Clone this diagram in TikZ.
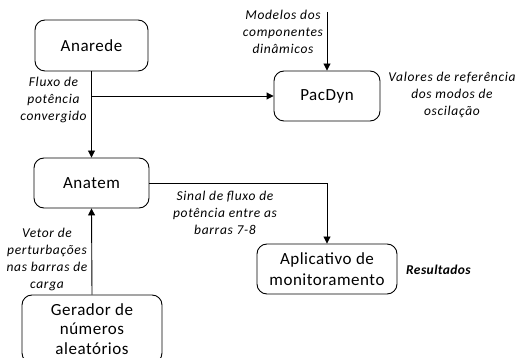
\documentclass[tikz,border=0pt]{standalone}
\usepackage{fontspec}
\setmainfont{Carlito}
\usetikzlibrary{arrows.meta,calc}
\begin{document}
\begin{tikzpicture}[x=1pt,y=-1pt,
  blk/.style={draw, line width=0.9pt, rounded corners=10pt, align=center, inner sep=0pt,
    font=\fontsize{17}{20.5}\selectfont\addfontfeature{LetterSpace=3}},
  lbl/.style={align=center, inner sep=0pt, font=\fontsize{13.5}{16.8}\selectfont\itshape\addfontfeature{LetterSpace=5}},
  conn/.style={line width=0.9pt, -{Triangle[length=7pt,width=7pt]}}]
\clip (0,0) rectangle (515,358);
\fill[white] (0,0) rectangle (515,358);
\node[blk, minimum width=113pt, minimum height=51pt] (anarede) at (91.5,45.5) {Anarede};
\node[blk, minimum width=106pt, minimum height=50pt] (pacdyn) at (327,96) {PacDyn};
\node[blk, minimum width=115pt, minimum height=50pt] (anatem) at (91.5,183) {Anatem};
\node[blk, minimum width=140pt, minimum height=50pt] (aplic) at (327,269) {Aplicativo de\\monitoramento};
\node[blk, minimum width=140pt, minimum height=68pt, font=\fontsize{17}{19.5}\selectfont\addfontfeature{LetterSpace=3}] (gerador) at (92,329) {Gerador de\\números\\aleatórios};
\coordinate (mtop) at (327,12);
\coordinate (j1) at (anarede.south |- pacdyn.west);
\draw[conn] (anarede.south) -- (anatem.north);
\draw[conn] (j1) -- (pacdyn.west);
\draw[conn] (mtop) -- (pacdyn.north);
\draw[conn] (anatem.east) -| (aplic.north);
\draw[conn] (gerador.north) -- (anatem.south);
\node[lbl] (fluxo) at (53.5,100) {Fluxo de\\potência\\convergido};
\node[lbl] (modelos) at (283,32) {Modelos dos\\componentes\\dinâmicos};
\node[lbl] (valores) at (452,95) {Valores de referência\\dos modos de\\oscilação};
\node[lbl] (sinal) at (225,213) {Sinal de fluxo de\\potência entre as\\barras 7-8};
\node[lbl] (vetor) at (47,259.5) {Vetor de\\perturbações\\nas barras de\\carga};
\node[lbl, font=\fontsize{13.5}{16.8}\selectfont\bfseries\itshape\addfontfeature{LetterSpace=3}] (result) at (438.5,270) {Resultados};
\end{tikzpicture}
\end{document}
